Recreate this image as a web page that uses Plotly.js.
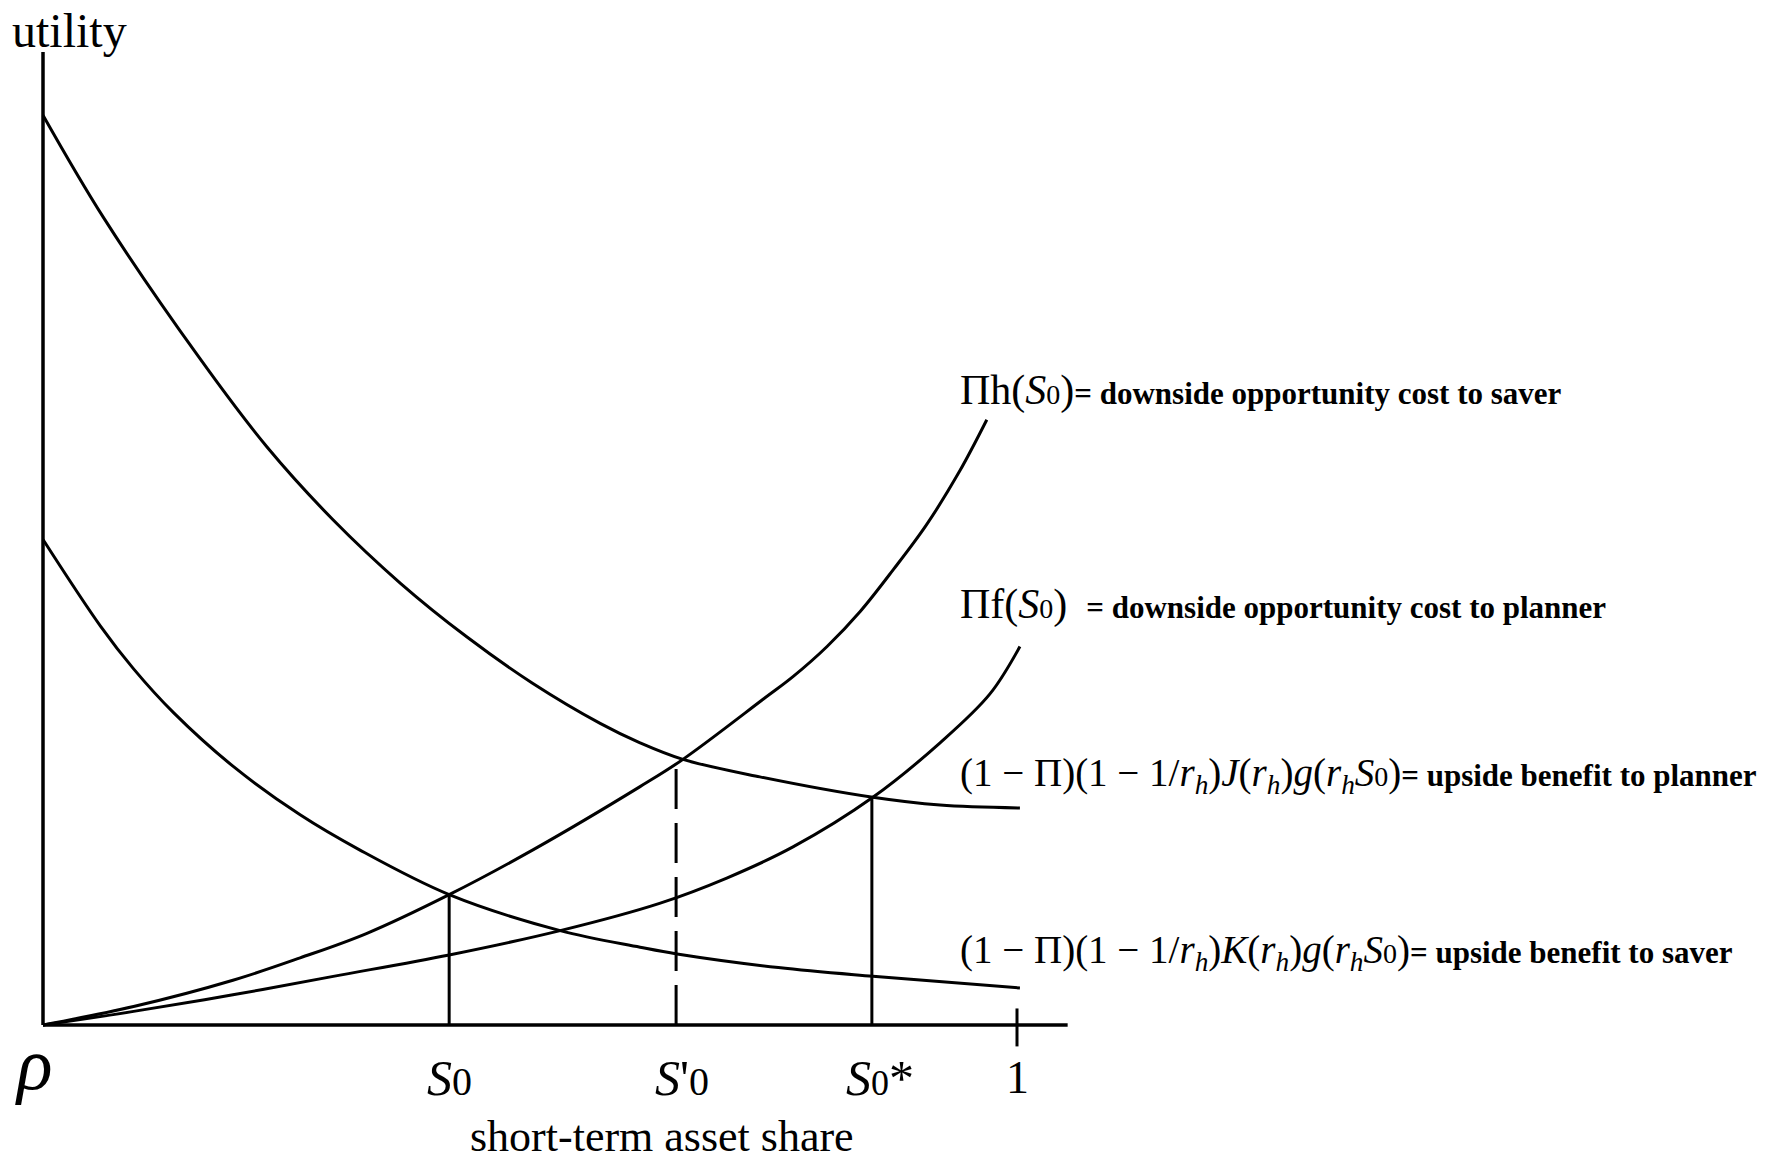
<!DOCTYPE html>
<html>
<head>
<meta charset="utf-8">
<script src="https://cdn.plot.ly/plotly-3.0.1.min.js"></script>
<style>
html,body{margin:0;padding:0;background:#fff;}
#chart{width:1771px;height:1164px;}
</style>
</head>
<body>
<div id="chart"></div>
<script>
// ---- data (short-term asset share, utility) ----
// upside benefit to planner: (1-Π)(1-1/rh)J(rh)g(rhS0)
const shareJ   = [0, 0.062, 0.161, 0.230, 0.298, 0.367, 0.435, 0.503, 0.572, 0.613, 0.657, 0.736, 0.852, 0.921, 1.003];
const utilJ    = [0.935, 0.830, 0.685, 0.594, 0.519, 0.454, 0.399, 0.351, 0.310, 0.290, 0.273, 0.255, 0.234, 0.226, 0.223];
// upside benefit to saver: (1-Π)(1-1/rh)K(rh)g(rhS0)
const shareK   = [0, 0.059, 0.093, 0.134, 0.195, 0.264, 0.325, 0.417, 0.531, 0.613, 0.651, 0.755, 0.852, 1.003];
const utilK    = [0.499, 0.410, 0.366, 0.321, 0.266, 0.216, 0.180, 0.134, 0.097, 0.080, 0.073, 0.059, 0.050, 0.038];
// downside opportunity cost to saver: Πh(S0)
const shareH   = [0, 0.093, 0.195, 0.264, 0.332, 0.417, 0.503, 0.613, 0.657, 0.741, 0.770, 0.805, 0.839, 0.873, 0.907, 0.941, 0.969];
const utilH    = [0, 0.019, 0.046, 0.069, 0.094, 0.134, 0.180, 0.245, 0.273, 0.336, 0.358, 0.389, 0.425, 0.468, 0.514, 0.569, 0.622];
// downside opportunity cost to planner: Πf(S0)
const shareF   = [0, 0.093, 0.195, 0.298, 0.417, 0.531, 0.633, 0.702, 0.770, 0.852, 0.921, 0.972, 1.003];
const utilF    = [0, 0.014, 0.031, 0.050, 0.072, 0.097, 0.125, 0.151, 0.183, 0.234, 0.290, 0.340, 0.389];

// equilibrium shares and their utility heights
const eqNames  = ['S0', "S'0", 'S0*'];
const eqShare  = [0.417, 0.650, 0.851];
const eqUtil   = [0.134, 0.272, 0.234];
const eqDash   = ['solid', '40px,14px', 'solid'];

// axes
const axisEndX = 1.052;
const axisTopY = 1.0;

// tick labels along the share axis
const tickVals = [0, 0.417, 0.650, 0.851, 1.0];
const tickText = [
  '<i>ρ</i>',
  '<i>S</i><span style="font-size:40px">0</span>',
  "<i>S</i>'<span style=\"font-size:40px\">0</span>",
  '<i>S</i><span style="font-size:36px">0</span>*',
  '1'
];

// curve labels
const curveLabelY = [0.6525, 0.4326, 0.2568, 0.0749];
const fm = 'font-size:28px';
const ds = 'font-size:31px;font-weight:bold';
const big = 'font-size:42px';
const curveLabels = [
  '<span style="'+big+'">Πh(<i>S</i><span style="'+fm+'">0</span>)</span><span style="'+ds+'">= downside opportunity cost to saver</span>',
  '<span style="'+big+'">Πf(<i>S</i><span style="'+fm+'">0</span>)</span>  <span style="'+ds+'">= downside opportunity cost to planner</span>',
  '(1 − Π)(1 − 1/<i>r</i><sub><i>h</i></sub>)<i>J</i>(<i>r</i><sub><i>h</i></sub>)<i>g</i>(<i>r</i><sub><i>h</i></sub><i>S</i><span style="'+fm+'">0</span>)<span style="'+ds+'">= upside benefit to planner</span>',
  '(1 − Π)(1 − 1/<i>r</i><sub><i>h</i></sub>)<i>K</i>(<i>r</i><sub><i>h</i></sub>)<i>g</i>(<i>r</i><sub><i>h</i></sub><i>S</i><span style="'+fm+'">0</span>)<span style="'+ds+'">= upside benefit to saver</span>'
];

const FONT = 'Liberation Serif, Times New Roman, serif';
const black = '#000';
const curveLine = {color: black, width: 3, shape: 'spline', smoothing: 1};

const traces = [];
function curve(x, y) {
  traces.push({x: x, y: y, type: 'scatter', mode: 'lines', line: curveLine, hoverinfo: 'skip', showlegend: false});
}
curve(shareJ, utilJ);
curve(shareK, utilK);
curve(shareH, utilH);
curve(shareF, utilF);

// axes as lines
traces.push({x: [0, axisEndX], y: [0, 0], type: 'scatter', mode: 'lines', line: {color: black, width: 3.5}, hoverinfo: 'skip', showlegend: false});
traces.push({x: [0, 0], y: [0, axisTopY], type: 'scatter', mode: 'lines', line: {color: black, width: 3.5}, hoverinfo: 'skip', showlegend: false});
// tick mark at share = 1
traces.push({x: [tickVals[4], tickVals[4]], y: [0.017, -0.022], type: 'scatter', mode: 'lines', line: {color: black, width: 3}, hoverinfo: 'skip', showlegend: false});

// vertical drop lines
for (let i = 0; i < eqShare.length; i++) {
  traces.push({x: [eqShare[i], eqShare[i]], y: [0, eqUtil[i]], type: 'scatter', mode: 'lines',
    line: {color: black, width: 3, dash: eqDash[i]}, hoverinfo: 'skip', showlegend: false, name: eqNames[i]});
}

const annotations = [];
// tick labels
const tickShift = [-9, 0, 6, 8, 0];
const tickY = [-0.040, -0.054, -0.054, -0.054, -0.054];
const tickSize = [74, 50, 50, 50, 46];
for (let i = 0; i < tickVals.length; i++) {
  annotations.push({x: tickVals[i], y: tickY[i], xref: 'x', yref: 'y', text: tickText[i], showarrow: false,
    xanchor: 'center', yanchor: 'middle', xshift: tickShift[i], font: {family: FONT, size: tickSize[i], color: black}});
}
// curve labels
const labelSize = [38, 38, 39, 39];
for (let i = 0; i < curveLabels.length; i++) {
  annotations.push({x: 0.9394, y: curveLabelY[i], xref: 'x', yref: 'y', text: curveLabels[i], showarrow: false,
    xanchor: 'left', yanchor: 'middle', align: 'left', font: {family: FONT, size: labelSize[i], color: black}});
}
// axis titles
annotations.push({x: 0.0277, y: 1.0226, xref: 'x', yref: 'y', text: 'utility', showarrow: false,
  xanchor: 'center', yanchor: 'middle', font: {family: FONT, size: 48, color: black}});
annotations.push({x: 0.6355, y: -0.1418, xref: 'x', yref: 'y', text: 'short-term asset share', showarrow: false,
  xanchor: 'center', yanchor: 'bottom', font: {family: FONT, size: 44, color: black}});

const layout = {
  width: 1771, height: 1164,
  margin: {l: 0, r: 0, t: 0, b: 0, pad: 0},
  paper_bgcolor: '#fff', plot_bgcolor: '#fff',
  showlegend: false,
  xaxis: {range: [-0.04415, 1.77413], visible: false, fixedrange: true},
  yaxis: {range: [-0.14286, 1.05344], visible: false, fixedrange: true},
  annotations: annotations,
  font: {family: FONT, color: black}
};

Plotly.newPlot('chart', traces, layout, {staticPlot: true, displayModeBar: false});
</script>
</body>
</html>
